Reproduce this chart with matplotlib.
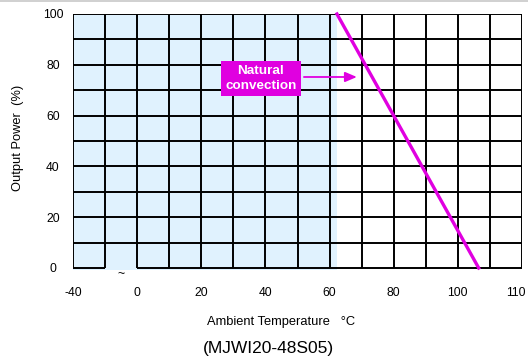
import matplotlib
matplotlib.use("Agg")
import matplotlib.pyplot as plt
import matplotlib.transforms as mtransforms
from matplotlib.lines import Line2D

plt.rcParams["font.family"] = ["Liberation Sans", "DejaVu Sans"]

# derating curve (natural convection)
temp_c = [62.3, 106.5]
load_pct = [100, 0]

# x axis: first column is a broken segment, "-40" is drawn at -20;
# the right edge of the grid carries the "110" label
x_ticks = [-20, 0, 20, 40, 60, 80, 100, 120]
x_tick_labels = ["-40", "0", "20", "40", "60", "80", "100", "110"]
y_ticks = [0, 20, 40, 60, 80, 100]
y_tick_labels = ["0", "20", "40", "60", "80", "100"]
x_grid = list(range(-20, 121, 10))
y_grid = list(range(0, 101, 10))
shade_to = 62.3
label_pos = (38.6, 74.6)
arrow_from = (52.0, 75.2)
arrow_to = (68.5, 75.2)

MAGENTA = "#e000e0"
SHADE = "#e0f2fe"

fig = plt.figure(figsize=(5.28, 3.63), dpi=100)
ax = fig.add_axes([73 / 528, 95 / 363, 449 / 528, 254 / 363])
ax.set_xlim(-20, 120)
ax.set_ylim(0, 100)

ax.axvspan(-20, shade_to, ymin=-0.008, color=SHADE, lw=0, zorder=0, clip_on=False)

for x in x_grid:
    ax.axvline(x, color="black", lw=1.4, zorder=2)
for y in y_grid[1:]:
    ax.axhline(y, color="black", lw=1.4, zorder=2)

# bottom line with break between -40 and 0
ax.plot([-20, -10], [0, 0], color="black", lw=1.4, zorder=3, clip_on=False, solid_capstyle="butt")
ax.plot([0, 120], [0, 0], color="black", lw=1.4, zorder=3, clip_on=False, solid_capstyle="butt")
ax.text(-5, -2.3, "~", ha="center", va="center", fontsize=9, zorder=4)

for side in ["top", "bottom", "left", "right"]:
    ax.spines[side].set_visible(False)

ax.plot(temp_c, load_pct, color=MAGENTA, lw=2.4, zorder=4, clip_on=False)

ax.text(label_pos[0], label_pos[1], "Natural\nconvection", ha="center", va="center",
        color="white", fontsize=9.7, fontweight="bold", linespacing=1.3, zorder=5,
        bbox=dict(boxstyle="square,pad=0.32", fc=MAGENTA, ec="none"))
ax.annotate("", xy=arrow_to, xytext=arrow_from, zorder=5,
            arrowprops=dict(arrowstyle="-|>,head_length=0.7,head_width=0.3",
                            color=MAGENTA, lw=1.3, shrinkA=0, shrinkB=0))

ax.set_xticks(x_ticks)
ax.set_xticklabels(x_tick_labels, fontsize=8.7)
ax.set_yticks(y_ticks)
ax.set_yticklabels(y_tick_labels, fontsize=8.7, ha="center")
ax.tick_params(axis="x", length=0, pad=14)
ax.tick_params(axis="y", length=0, pad=14.5)
last = ax.get_xticklabels()[-1]
last.set_transform(last.get_transform() + mtransforms.ScaledTranslation(-6 / 100, 0, fig.dpi_scale_trans))

fig.text(18 / 528, 1 - 138 / 363, "Output Power  (%)", rotation=90, ha="center", va="center", fontsize=9.3)
fig.text(281 / 528, 1 - 322 / 363, "Ambient Temperature   \u00b0C", ha="center", va="center", fontsize=9.3)
fig.text(268 / 528, 1 - 349 / 363, "(MJWI20-48S05)", ha="center", va="center", fontsize=12.5)

fig.add_artist(Line2D([0, 1], [1 - 0.5 / 363, 1 - 0.5 / 363], color="#c8c8c8", lw=1.2, transform=fig.transFigure))

fig.savefig("out.png", dpi=100)
